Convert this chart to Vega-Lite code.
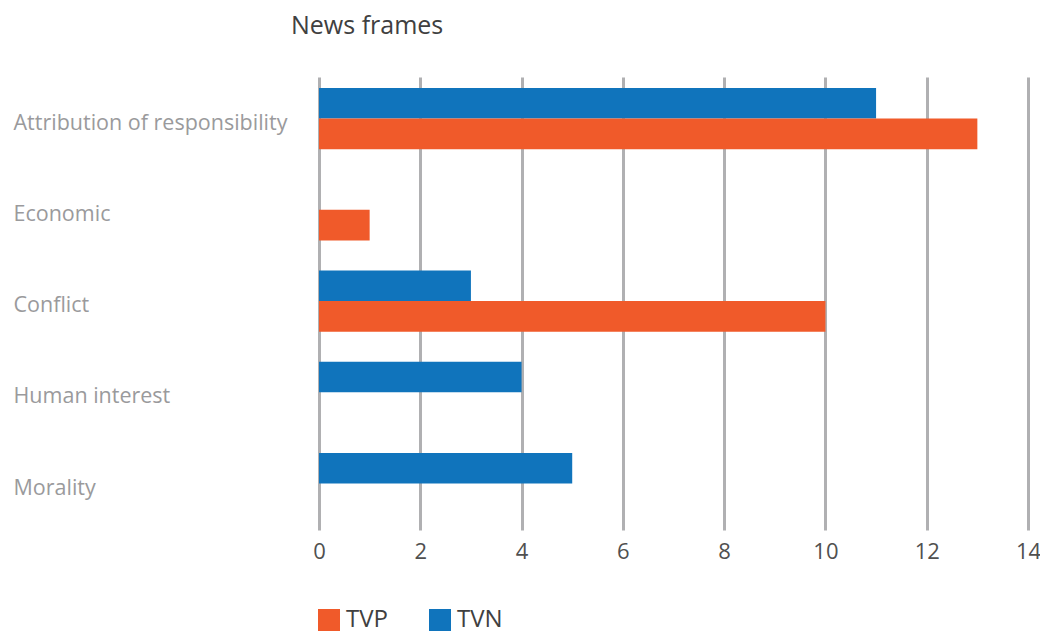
{
  "$schema": "https://vega.github.io/schema/vega-lite/v6.json",
  "width": 709,
  "height": 453,
  "autosize": {"type": "none"},
  "padding": {"left": 319, "top": 77, "right": 12, "bottom": 104},
  "background": "white",
  "title": {
    "text": "News frames",
    "anchor": "start",
    "frame": "group",
    "dx": -28,
    "offset": 38,
    "fontSize": 25,
    "fontWeight": "normal",
    "font": "Open Sans",
    "color": "#404040"
  },
  "data": {
    "values": [
      {"frame": "Attribution of responsibility", "channel": "TVN", "count": 11},
      {"frame": "Attribution of responsibility", "channel": "TVP", "count": 13},
      {"frame": "Economic", "channel": "TVN", "count": 0},
      {"frame": "Economic", "channel": "TVP", "count": 1},
      {"frame": "Conflict", "channel": "TVN", "count": 3},
      {"frame": "Conflict", "channel": "TVP", "count": 10},
      {"frame": "Human interest", "channel": "TVN", "count": 4},
      {"frame": "Human interest", "channel": "TVP", "count": 0},
      {"frame": "Morality", "channel": "TVN", "count": 5},
      {"frame": "Morality", "channel": "TVP", "count": 0}
    ]
  },
  "mark": {"type": "bar"},
  "encoding": {
    "y": {
      "field": "frame",
      "type": "nominal",
      "sort": ["Attribution of responsibility", "Economic", "Conflict", "Human interest", "Morality"],
      "scale": {"paddingInner": 0.33, "paddingOuter": 0.147, "align": 0.41},
      "axis": {
        "title": null,
        "ticks": false,
        "domain": false,
        "grid": false,
        "labelAlign": "left",
        "labelPadding": 306,
        "labelOffset": 5,
        "labelFont": "Open Sans",
        "labelFontSize": 21.5,
        "labelColor": "#9a9a9c",
        "labelLimit": 400
      }
    },
    "yOffset": {
      "field": "channel",
      "type": "nominal",
      "sort": ["TVN", "TVP"],
      "scale": {"paddingInner": 0, "paddingOuter": 0}
    },
    "x": {
      "field": "count",
      "type": "quantitative",
      "scale": {"domain": [0, 14], "nice": false},
      "axis": {
        "title": null,
        "values": [0, 2, 4, 6, 8, 10, 12, 14],
        "ticks": false,
        "domain": false,
        "grid": true,
        "gridColor": "#b0b0b2",
        "gridWidth": 3,
        "labelFlush": false,
        "labelPadding": 11,
        "labelFont": "Open Sans",
        "labelFontSize": 22,
        "labelColor": "#505050"
      }
    },
    "color": {
      "field": "channel",
      "type": "nominal",
      "scale": {"domain": ["TVP", "TVN"], "range": ["#f05a2a", "#1074bc"]},
      "legend": {
        "title": null,
        "orient": "none",
        "direction": "horizontal",
        "legendX": -2,
        "legendY": 531,
        "symbolType": "square",
        "symbolSize": 484,
        "symbolStrokeWidth": 0,
        "symbolOpacity": 1,
        "labelFont": "Open Sans",
        "labelFontSize": 24,
        "labelColor": "#404040",
        "labelOffset": 5,
        "columnPadding": 40
      }
    }
  },
  "config": {"view": {"stroke": null}}
}
